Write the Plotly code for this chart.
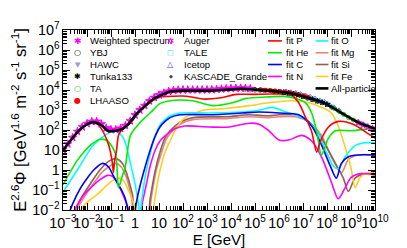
import plotly.graph_objects as go

# ---------------- data (log10 E [GeV], log10 E^2.6 Phi) -------------
ALL_LOGE = [-3.00, -2.67, -2.26, -1.84, -1.64, -1.35, -1.14, -0.81, -0.52, -0.28, 0.10, 0.43, 0.76, 1.17, 1.46,
            2.08, 3.11, 3.93, 4.47, 4.97, 5.58, 6.00, 6.53, 7.24, 7.94, 8.60, 9.30, 10.0]
ALL_LOGF = [0.98, 1.50, 2.06, 2.38, 2.38, 2.20, 1.96, 1.96, 2.06, 2.29, 2.85, 3.22, 3.55, 3.78, 3.92,
            3.97, 3.97, 4.02, 4.06, 4.02, 3.97, 3.92, 3.83, 3.60, 3.32, 2.85, 2.38, 2.06]

P_LOGE = [-3.00, -2.67, -2.26, -1.84, -1.64, -1.45, -1.30, -1.10, -0.94, -0.90, -0.85, -0.77, -0.69, -0.60, -0.52,
          -0.28, 0.10, 0.43, 0.76, 1.04, 1.58, 2.16, 2.82, 3.52, 4.22, 4.88, 5.58, 6.20, 6.53, 6.82, 7.11, 7.36,
          7.57, 7.73, 8.06, 8.47, 9.09, 9.71, 10.0]
P_LOGF = [0.96, 1.48, 2.04, 2.36, 2.35, 2.15, 1.85, 1.26, 0.33, -0.13, 0.45, 0.98, 1.73, 1.93, 2.02,
          2.25, 2.80, 3.17, 3.48, 3.64, 3.69, 3.69, 3.55, 3.60, 3.78, 3.78, 3.80, 3.80, 3.74, 3.36, 2.62, 1.92,
          0.89, 1.45, 2.15, 2.43, 2.29, 1.82, 1.59]

HE_LOGE = [-3.00, -2.38, -1.84, -1.43, -1.14, -0.81, -0.69, -0.52, -0.40, -0.19, 0.22, 0.63, 1.04, 1.46, 1.87,
           2.41, 3.23, 4.06, 4.64, 5.46, 6.20, 6.62, 7.11, 7.36, 7.57, 7.77, 8.06, 8.35, 9.01, 9.71, 10.0]
HE_LOGF = [-0.74, 0.52, 1.26, 1.54, 1.45, 0.80, -0.88, -0.27, 0.19, 1.73, 2.38, 2.85, 3.32, 3.46, 3.50,
           3.46, 3.22, 3.36, 3.58, 3.65, 3.68, 3.60, 3.36, 2.85, 1.92, 0.75, 1.59, 1.96, 1.96, 2.06, 2.10]

C_LOGE = [-2.88, -2.59, -2.26, -1.97, -1.68, -1.35, -1.10, -0.90, -0.69, -0.52, -0.40, -0.30, -0.22,
          -0.07, 0.05, 0.22, 0.43, 0.63, 0.84, 1.04, 1.25, 1.46, 1.87, 3.11, 4.47, 5.17, 6.00, 6.82, 7.36,
          7.77, 8.14, 8.39, 8.60, 8.89, 9.30, 10.0]
C_LOGF = [-2.61, -1.67, -0.88, -0.37, 0.05, 0.33, 0.15, -0.30, -0.74, -1.10, -1.45, -2.00, -2.60,
          -2.61, -1.67, -0.74, 0.19, 0.99, 1.68, 2.15, 2.43, 2.62, 2.76, 2.76, 2.85, 2.90, 2.85, 2.76, 2.20,
          1.26, 0.19, -0.41, 0.33, 0.66, 0.75, 0.75]

N_LOGE = [-2.67, -2.17, -1.72, -1.43, -1.14, -0.94, -0.69, -0.48, -0.28, -0.19,
          0.14, 0.34, 0.51, 0.63, 0.84, 1.04, 1.33, 1.66, 2.08, 3.11, 3.93, 4.76, 5.17, 5.58, 6.00, 6.41,
          6.95, 7.36, 7.77, 8.18, 8.47, 8.76, 9.01, 9.42, 10.0]
N_LOGF = [-2.37, -1.30, -0.74, -0.46, -0.27, -0.32, -0.74, -1.30, -1.91, -2.37,
          -2.37, -1.44, -0.51, 0.19, 0.99, 1.45, 1.78, 2.06, 2.20, 2.15, 2.15, 2.34, 2.29, 1.96, 1.50, 1.50,
          1.73, 1.45, 0.66, -0.60, -1.44, -0.88, -0.37, -0.18, -0.25]

O_LOGE = [-3.00, -2.38, -1.72, -1.14, -0.81, -0.48, -0.19, 0.01, 0.14, 0.20, 0.27, 0.43, 0.63, 0.84, 1.04,
          1.25, 1.46, 1.87, 3.11, 4.47, 5.17, 5.71, 6.29, 6.95, 7.52, 7.94, 8.27, 8.47, 8.76, 9.17, 9.59, 10.0]
O_LOGF = [-1.11, 0.05, 1.26, 1.82, 1.96, 1.59, 0.33, -0.74, -1.67, -2.30, -1.60, -0.30, 0.80, 1.73, 2.24,
          2.52, 2.71, 2.85, 2.85, 2.90, 2.99, 3.13, 2.90, 2.62, 2.06, 0.99, 0.19, 0.05, 0.66, 1.22, 1.36, 1.36]

MG_LOGE = [-2.59, -2.17, -1.76, -1.39, -1.06, -0.81, -0.57, -0.32, -0.15, 0.01,
           0.55, 0.67, 0.88, 1.09, 1.29, 1.50, 1.87, 2.41, 3.81, 4.76, 5.58, 6.00, 6.70, 7.24, 7.77, 8.18,
           8.60, 8.89, 9.30, 10.0]
MG_LOGF = [-2.37, -1.44, -0.74, -0.13, 0.19, 0.33, 0.15, -0.51, -1.35, -2.37,
           -2.37, -1.44, -0.04, 0.80, 1.50, 1.87, 2.29, 2.52, 2.57, 2.66, 2.62, 2.66, 2.66, 2.38, 1.73, 0.66,
           -0.13, 0.52, 0.75, 0.75]

SI_LOGE = [-2.67, -2.26, -1.84, -1.43, -1.10, -0.81, -0.52, -0.32, -0.11, 0.05,
           0.51, 0.63, 0.84, 1.04, 1.25, 1.46, 1.87, 2.41, 3.81, 4.76, 5.58, 6.00, 6.70, 7.24, 7.77, 8.35,
           8.68, 8.89, 9.17, 9.59, 10.0]
SI_LOGF = [-2.37, -1.44, -0.65, 0.05, 0.43, 0.57, 0.33, -0.27, -1.21, -2.37,
           -2.37, -1.44, -0.04, 0.89, 1.59, 1.96, 2.38, 2.62, 2.66, 2.76, 2.71, 2.76, 2.76, 2.43, 1.59, 0.33,
           -0.41, -1.07, -0.41, -0.18, -0.18]

FE_LOGE = [-2.46, -2.05, -1.56, -1.02, -0.73, -0.50, -0.32, -0.12, 0.01, 0.10,
           0.67, 0.80, 0.92, 1.04, 1.25, 1.46, 1.75, 2.08, 2.41, 2.82, 3.81, 4.76, 5.58, 6.53, 7.24, 7.77,
           8.18, 8.47, 8.76, 9.01, 9.17, 9.38, 9.71, 10.0]
FE_LOGF = [-2.37, -1.67, -1.21, -0.60, -0.41, -0.50, -0.88, -1.45, -2.00, -2.61,
           -2.61, -1.67, -0.74, -0.04, 0.89, 1.45, 2.15, 2.62, 2.80, 2.99, 3.08, 3.22, 3.36, 3.46, 3.36, 3.13,
           2.85, 2.20, 1.13, 0.05, -0.88, -0.37, -0.13, -0.13]

# measurements
WS_LOGE = [-3.0, -2.8, -2.6, -2.4, -2.2, -2.0, -1.8, -1.6, -1.4, -1.2, -1.0, -0.8, -0.6, -0.4, -0.2, 0.0,
           0.2, 0.4, 0.6, 0.8, 1.0, 1.2, 1.4, 1.6, 1.8, 2.0, 2.2, 2.4, 2.6, 2.8, 3.0, 3.2, 3.4, 3.6, 3.8,
           4.0, 4.2, 4.4, 4.6, 4.8]
WS_LOGF = [1.02, 1.30, 1.62, 1.92, 2.15, 2.32, 2.42, 2.43, 2.30, 2.10, 2.02, 2.02, 2.08, 2.22, 2.45, 2.75,
           3.00, 3.22, 3.45, 3.62, 3.75, 3.85, 3.93, 3.98, 4.00, 4.01, 4.01, 4.01, 4.01, 4.01, 4.01, 4.02,
           4.03, 4.05, 4.07, 4.08, 4.09, 4.10, 4.09, 4.07]
YBJ_LOGE = [5.0, 5.2, 5.4, 5.6, 5.8, 6.0, 6.2, 6.4]
YBJ_LOGF = [4.02, 4.00, 3.98, 3.96, 3.94, 3.92, 3.88, 3.84]
HAWC_LOGE = [4.6, 4.8, 5.0, 5.2, 5.4, 5.6]
HAWC_LOGF = [4.02, 4.00, 3.98, 3.96, 3.95, 3.93]
TUNKA_LOGE = [6.2, 6.4, 6.6, 6.8, 7.0, 7.2, 7.4, 7.6, 7.8, 8.0]
TUNKA_LOGF = [3.88, 3.85, 3.81, 3.75, 3.68, 3.61, 3.53, 3.45, 3.38, 3.28]
TA_LOGE = [8.3, 8.5, 8.7, 8.9, 9.1, 9.3, 9.5, 9.7, 9.9]
TA_LOGF = [3.08, 2.93, 2.78, 2.62, 2.50, 2.40, 2.28, 2.17, 2.10]
LHAASO_LOGE = [5.25, 5.45, 5.65, 5.85, 6.05, 6.25, 6.45, 6.65, 6.85, 7.05, 7.2]
LHAASO_LOGF = [4.01, 3.99, 3.97, 3.95, 3.93, 3.90, 3.86, 3.81, 3.75, 3.69, 3.64]
AUGER_LOGE = [9.3, 9.5, 9.7, 9.9]
AUGER_LOGF = [2.36, 2.25, 2.15, 2.07]
TALE_LOGE = [6.4, 6.6, 6.8, 7.0, 7.2, 7.4, 7.6, 7.8, 8.0, 8.2]
TALE_LOGF = [3.86, 3.82, 3.76, 3.69, 3.62, 3.54, 3.46, 3.39, 3.29, 3.15]
ICETOP_LOGE = [6.3, 6.5, 6.7, 6.9, 7.1, 7.3, 7.5, 7.7, 7.9, 8.1, 8.3, 8.5]
ICETOP_LOGF = [3.93, 3.89, 3.85, 3.80, 3.73, 3.66, 3.57, 3.48, 3.40, 3.27, 3.13, 2.98]
KG_LOGE = [7.0, 7.2, 7.4, 7.6, 7.8, 8.0, 8.2]
KG_LOGF = [3.64, 3.57, 3.49, 3.42, 3.35, 3.27, 3.13]


def lin(v):
    return [10 ** x for x in v]


fig = go.Figure()

fits = [
    ("fit Mg", MG_LOGE, MG_LOGF, "#e8837c"),
    ("fit Si", SI_LOGE, SI_LOGF, "#8e6150"),
    ("fit Fe", FE_LOGE, FE_LOGF, "#ffcc22"),
    ("fit N", N_LOGE, N_LOGF, "#ff00ff"),
    ("fit O", O_LOGE, O_LOGF, "#00ffff"),
    ("fit C", C_LOGE, C_LOGF, "#0000ff"),
    ("fit He", HE_LOGE, HE_LOGF, "#00ee00"),
    ("fit P", P_LOGE, P_LOGF, "#ff0000"),
]
for name, le, lf, col in fits:
    fig.add_trace(go.Scatter(x=lin(le), y=lin(lf), mode="lines", name=name,
                             line=dict(color=col, width=1.6, shape="spline", smoothing=0.8),
                             showlegend=False))

meas = [
    ("Weighted spectrum", WS_LOGE, WS_LOGF, "star", "#ff00ff", 6),
    ("YBJ", YBJ_LOGE, YBJ_LOGF, "circle-open", "#000000", 4),
    ("HAWC", HAWC_LOGE, HAWC_LOGF, "triangle-down", "#9a9ac0", 5),
    ("Icetop", ICETOP_LOGE, ICETOP_LOGF, "triangle-up-open", "#6a6aff", 5),
    ("TALE", TALE_LOGE, TALE_LOGF, "square-open", "#33ccff", 4),
    ("Tunka133", TUNKA_LOGE, TUNKA_LOGF, "star", "#000000", 4),
    ("KASCADE_Grande", KG_LOGE, KG_LOGF, "diamond", "#444444", 3),
    ("LHAASO", LHAASO_LOGE, LHAASO_LOGF, "circle", "#ff0000", 4),
    ("TA", TA_LOGE, TA_LOGF, "circle-open", "#00cc00", 4),
    ("Auger", AUGER_LOGE, AUGER_LOGF, "star-open", "#ff00ff", 5),
]
for name, le, lf, sym, col, sz in meas:
    fig.add_trace(go.Scatter(x=lin(le), y=lin(lf), mode="markers", name=name,
                             marker=dict(symbol=sym, color=col, size=sz, line=dict(color=col, width=1)),
                             showlegend=False))

fig.add_trace(go.Scatter(x=lin(ALL_LOGE), y=lin(ALL_LOGF), mode="lines", name="All-particle",
                         line=dict(color="#000000", width=2.6, shape="spline", smoothing=0.8),
                         showlegend=False))

# ---------------- manual legend (ROOT-style, four columns) ----------------
L, R, T, B = 52, 367, 14, 207


def px(xp):
    return (xp - L) / (R - L)


def py(yp):
    return (B - yp) / (B - T)


rows = [25.7, 38.4, 51.0, 63.8, 76.6, 89.3]
FONT = "Liberation Sans, Arial, Helvetica, sans-serif"
SYMF = "DejaVu Sans, sans-serif"
annots = []
shapes = []

col1 = [("Weighted spectrum", "\u2731", "#ff00ff", 9), ("YBJ", "\u25cb", "#000000", 8),
        ("HAWC", "\u25bc", "#9a9ac0", 7), ("Tunka133", "\u2731", "#000000", 8),
        ("TA", "\u25cb", "#00cc00", 8), ("LHAASO", "\u25cf", "#ff0000", 8)]
col2 = [("Auger", "\u2732", "#ff00ff", 9), ("TALE", "\u25a1", "#33ccff", 7),
        ("Icetop", "\u25b3", "#3333ff", 8), ("KASCADE_Grande", "\u25c6", "#444444", 5)]
for items, mx, tx in ((col1, 67, 78), (col2, 161, 173)):
    for i, (lab, sym, col, sz) in enumerate(items):
        annots.append(dict(x=px(mx), y=py(rows[i]), xref="paper", yref="paper", text=sym, showarrow=False,
                           xanchor="center", yanchor="middle", borderpad=0,
                           font=dict(family=SYMF, size=sz, color=col)))
        annots.append(dict(x=px(tx), y=py(rows[i]), xref="paper", yref="paper", text=lab, showarrow=False,
                           xanchor="left", yanchor="middle", borderpad=0,
                           font=dict(family=FONT, size=9.6, color="#000")))

col3 = [("fit P", "#ff0000", 1.6), ("fit He", "#00ee00", 1.6), ("fit C", "#0000ff", 1.6), ("fit N", "#ff00ff", 1.6)]
col4 = [("fit O", "#00ffff", 1.6), ("fit Mg", "#e8837c", 1.6), ("fit Si", "#8e6150", 1.6),
        ("fit Fe", "#ffcc22", 1.6), ("All-particle", "#000000", 2.6)]
for items, x0, x1, tx in ((col3, 259, 273, 276), (col4, 307, 320, 322)):
    for i, (lab, col, w) in enumerate(items):
        shapes.append(dict(type="line", xref="paper", yref="paper", x0=px(x0), x1=px(x1),
                           y0=py(rows[i]), y1=py(rows[i]), line=dict(color=col, width=w)))
        annots.append(dict(x=px(tx), y=py(rows[i]), xref="paper", yref="paper", text=lab, showarrow=False,
                           xanchor="left", yanchor="middle", borderpad=0,
                           font=dict(family=FONT, size=9.6, color="#000")))

axis_common = dict(type="log", tickmode="linear", tick0=0, dtick=1, exponentformat="power",
                   ticks="inside", ticklen=7, tickwidth=1, tickcolor="#000",
                   minor=dict(ticks="inside", ticklen=4, dtick="D1", tickcolor="#000", showgrid=False),
                   mirror="allticks", showline=True, linecolor="#000", linewidth=1,
                   showgrid=False, zeroline=False, tickangle=0,
                   tickfont=dict(family=FONT, size=11.5, color="#000"))

fig.update_layout(
    width=407, height=248, autosize=False,
    margin=dict(l=L, r=407 - R, t=T, b=248 - B),
    paper_bgcolor="white", plot_bgcolor="white",
    font=dict(family=FONT, color="#000"),
    showlegend=False,
    xaxis=dict(range=[-3, 10], title=dict(text="E [GeV]", font=dict(family=FONT, size=15), standoff=3),
               **axis_common),
    yaxis=dict(range=[-2, 7],
               title=dict(text="E<sup>2.6</sup>\u03a6 [GeV<sup>1.6</sup> m<sup>-2</sup> s<sup>-1</sup> sr<sup>-1</sup>]",
                          font=dict(family=FONT, size=16.5), standoff=1),
               **axis_common),
    annotations=annots,
    shapes=shapes,
)

fig.write_html("out.html")
